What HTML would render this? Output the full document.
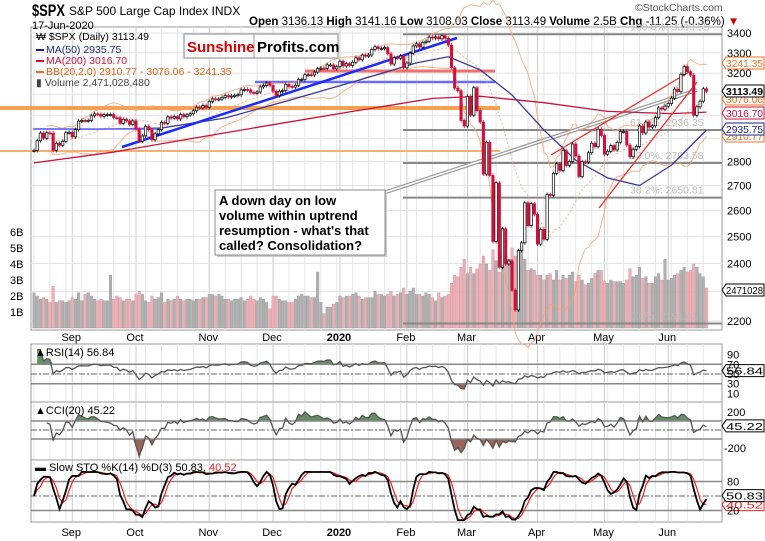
<!DOCTYPE html>
<html><head><meta charset="utf-8"><style>
html,body{margin:0;padding:0;background:#fff;}
svg{display:block;font-family:"Liberation Sans",sans-serif;}
</style></head><body>
<svg id="chart" width="765" height="541" viewBox="0 0 765 541" xmlns="http://www.w3.org/2000/svg">
<g id="bg"></g>
<text x="32" y="16" font-size="17" font-weight="bold" textLength="33" lengthAdjust="spacingAndGlyphs">$SPX</text>
<text x="69" y="15" font-size="12">S&amp;P 500 Large Cap Index  INDX</text>
<text x="32" y="29" font-size="11">17-Jun-2020</text>
<text x="249" y="25" font-size="11.5"><tspan font-weight="bold">Open</tspan> 3136.13 <tspan font-weight="bold">High</tspan> 3141.16 <tspan font-weight="bold">Low</tspan> 3108.03 <tspan font-weight="bold">Close</tspan> 3113.49 <tspan font-weight="bold">Volume</tspan> 2.5B <tspan font-weight="bold">Chg</tspan> -11.25 (-0.36%) <tspan fill="#c00">▼</tspan></text>
<text x="635" y="11" font-size="10.5" fill="#555">©StockCharts.com</text>
<g id="main"></g>
<g id="legend" font-size="10.5">
<text x="36" y="40" fill="#000">₩ $SPX (Daily) 3113.49</text>
<rect x="36" y="49" width="8" height="2" fill="#1a237e"/><text x="46" y="53" fill="#1a237e">MA(50) 2935.75</text>
<rect x="36" y="60" width="8" height="2" fill="#d0103a"/><text x="46" y="64" fill="#d0103a">MA(200) 3016.70</text>
<rect x="36" y="71" width="8" height="2" fill="#f07020"/><text x="46" y="75" fill="#e06010">BB(20,2.0) 2910.77 - 3076.06 - 3241.35</text>
<text x="36" y="86" fill="#444">▮ Volume 2,471,028,480</text>
</g>
<g>
<rect x="184" y="34" width="154" height="24" fill="#fff" stroke="#999" stroke-width="1.2"/>
<line x1="254" y1="34" x2="254" y2="58" stroke="#999"/>
<text x="187" y="52" font-size="15" font-weight="bold" fill="#d00">Sunshine</text>
<text x="257" y="52" font-size="15" font-weight="bold" fill="#000">Profits.com</text>
</g>
<g>
<rect x="217" y="192" width="170" height="65" fill="#ccc"/>
<rect x="215" y="190" width="170" height="65" fill="#fff" stroke="#888"/>
<g font-size="13" font-weight="bold">
<text x="219" y="205">A down day on low</text>
<text x="219" y="220">volume within uptrend</text>
<text x="219" y="235">resumption - what's that</text>
<text x="219" y="250">called? Consolidation?</text>
</g></g>
<g id="lower"></g>
</svg>
<script>
// ---------- data ----------
const closes = [2847,2889,2923,2900,2924,2922,2847,2878,2869,2887,2924,2926,
2906,2938,2976,2979,2978,2979,3000,3009,3007,2998,3005,3006,3006,2992,2991,2966,2984,2977,2961,2977,
2940,2887,2910,2952,2938,2893,2919,2938,2970,2966,2995,2989,2997,2986,3006,2996,3004,3010,3023,3039,3036,3047,3038,
3066,3078,3075,3077,3085,3093,3087,3091,3094,3097,3120,3122,3120,3108,3104,3110,3134,3141,3153,3141,
3113,3093,3113,3117,3146,3136,3133,3142,3169,3169,3192,3192,3191,3205,3221,3224,3223,3240,3240,3221,3231,
3258,3235,3246,3237,3253,3275,3265,3288,3283,3289,3317,3330,3321,3321,3326,3295,3244,3276,3273,3284,3226,
3249,3298,3334,3345,3328,3352,3358,3379,3374,3380,3370,3386,3373,3338,3226,3128,3116,2979,2954,
3090,3003,3130,3024,2972,2747,2882,2741,2481,2711,2386,2529,2398,2409,2305,2237,2447,2476,2630,2541,2627,2585,
2471,2527,2489,2664,2660,2750,2790,2762,2846,2783,2800,2875,2823,2737,2799,2798,2837,2878,2863,2940,2912,
2831,2843,2868,2849,2882,2930,2930,2870,2820,2852,2864,2954,2923,2972,2949,2955,2992,3036,3030,3044,
3056,3081,3123,3112,3194,3232,3207,3190,3002,3041,3067,3125,3113.49];
const volumes = [2.2,2.0,1.8,1.9,1.8,1.6,2.6,1.6,1.7,1.7,1.6,1.7,
1.9,1.8,2.2,1.7,2.1,2.2,2.0,1.8,1.7,1.8,1.7,1.7,3.3,1.8,2.0,1.9,1.7,1.8,1.8,1.7,
2.1,2.3,2.1,1.7,1.6,2.0,1.8,1.9,2.2,1.6,1.8,1.7,1.8,2.0,1.8,1.7,1.8,1.8,1.7,1.8,1.8,1.9,1.9,
2.1,2.1,2.0,2.1,2.0,1.8,1.8,1.7,1.8,1.8,1.9,1.7,1.8,2.0,1.8,1.7,1.9,1.8,1.6,1.2,
2.0,2.0,1.8,1.7,1.7,1.6,1.6,1.8,2.0,2.1,2.0,2.0,1.9,1.9,3.5,1.6,0.9,1.3,1.3,1.5,1.6,
2.0,1.9,2.0,2.0,2.1,2.2,2.0,1.8,1.9,1.9,1.9,2.3,2.1,2.1,2.0,2.1,2.3,2.0,2.1,2.2,2.5,
2.1,2.3,2.5,2.1,2.1,2.0,2.2,2.1,1.9,1.7,2.2,1.9,2.0,2.1,2.8,3.3,3.2,3.8,4.3,
3.4,3.8,3.4,3.7,4.0,4.5,4.0,3.6,4.9,4.2,3.5,4.5,4.5,4.3,5.0,4.5,4.8,5.0,4.3,3.6,3.7,3.6,
3.3,3.3,3.0,3.3,3.4,3.0,3.6,3.0,3.3,3.1,3.3,3.5,2.9,3.3,3.0,2.7,2.8,3.1,3.4,3.6,3.6,
2.9,2.8,3.0,2.9,2.9,2.9,2.8,3.0,3.7,3.2,3.3,3.8,3.1,3.2,2.8,2.8,3.2,3.4,3.0,4.3,
3.0,3.1,3.3,3.4,3.6,3.8,3.5,3.6,4.0,3.8,3.4,3.2,2.5];
const ma50Idx = [0,20,40,60,80,100,120,130,140,150,160,170,180,190,200,211];
const ma50Val = [2941,2940,2945,2990,3071,3157,3250,3280,3216,3096,2936,2805,2731,2700,2784,2935.75];
const ma200Idx = [0,25,50,75,100,125,140,160,180,200,211];
const ma200Val = [2794,2840,2900,2960,3020,3080,3090,3060,3020,3010,3016.7];
const monthLabels = ["Sep","Oct","Nov","Dec","2020","Feb","Mar","Apr","May","Jun"];
const monthStart = [12,32,55,75,96,117,136,158,179,199];
const priceTicks = [3400,3300,3200,3100,3000,2900,2800,2700,2600,2500,2400,2300,2200];
const priceTickLabels = ["3400","3300","3200","","","","2800","2700","2600","2500","2400","","2200"];
const volTicks = [1,2,3,4,5,6];
const fibLevels = [3393.55,2936.35,2793.58,2650.81,2191.61];
const fibNames = ["100.0%","61.8%","50.0%","38.2%","0.0%"];
const rsiTicks = [90,70,50,30,10];
const cciTicks = [200,-200];
const stoTicks = [80,20];

// ---------- scales ----------
const NS='http://www.w3.org/2000/svg';
const X0=31,X1=722;
function xs(i){return 34+i*3.187;}
function ys(p){return 33+Math.log10(3400/p)/Math.log10(3400/2200)*288;}
function yv(v){return 328-v*16;}
function yr(v){return 374-(v-50)*0.487;}
function yc(v){return 430-v*0.09;}
function yk(v){return 496-(v-50)*0.483;}
function mk(parent,tag,attrs,txt){const e=document.createElementNS(NS,tag);for(const k in attrs)e.setAttribute(k,attrs[k]);if(txt!==undefined)e.textContent=txt;parent.appendChild(e);return e;}
const main=document.getElementById('main'), lower=document.getElementById('lower'), bg=document.getElementById('bg');

const panels=[[27,330],[344,402],[402,460],[460,522]];
const panelNames=['price-panel','rsi-panel','cci-panel','stochastic-panel'];
panels.forEach((p,k)=>{
  const r=mk(bg,'rect',{x:X0,y:p[0],width:X1-X0,height:p[1]-p[0],fill:'#fff',stroke:'#999'});
  
  
  for(let i=0;i<212;i+=5){mk(bg,'line',{x1:xs(i),x2:xs(i),y1:p[0],y2:p[1],stroke:'#e6e6e6'});}
  monthStart.forEach(i=>mk(bg,'line',{x1:xs(i),x2:xs(i),y1:p[0],y2:p[1],stroke:'#ccc'}));
});
priceTicks.forEach((p,k)=>{
  mk(bg,'line',{x1:X0,x2:X1,y1:ys(p),y2:ys(p),stroke:'#e2e2e2'});
  if(priceTickLabels[k]){const t=mk(bg,'text',{x:727,y:ys(p)+4,'font-size':11},priceTickLabels[k]);
  
  }
});
volTicks.forEach(v=>{
  const t=mk(bg,'text',{x:10,y:yv(v)+4,'font-size':11},v+'B');
  
  
});
[337,532].forEach(yy=>monthLabels.forEach((m,k)=>{
  const t=mk(bg,'text',{x:xs(monthStart[k])-1,y:yy+4,'font-size':11,'text-anchor':'middle','font-weight':m==='2020'?'bold':'normal'},m);
  
  
}));

closes.forEach((c,i)=>{
  const up=i===0||c>=closes[i-1];
  const b=mk(main,'rect',{x:xs(i)-1.3,y:yv(volumes[i]),width:2.6,height:328-yv(volumes[i]),fill:up?'#b0b0b0':'#eab0b6',stroke:up?'#999':'#d89098','stroke-width':0.4});
  
  
});
function ln(x1,y1,x2,y2,col,w,name){const l=mk(main,'line',{x1,y1,x2,y2,stroke:col,'stroke-width':w});return l;}
ln(0,108,500,108,'#f5a050',4,'orange-resistance-line');
ln(0,151,500,151,'#f5b070',2,'orange-support-line');
ln(255,82,495,82,'#6a6aff',2.5,'blue-horizontal-line');
ln(305,71,495,71,'#f07070',3,'red-horizontal-line');
fibLevels.forEach((f,k)=>{ln(403,ys(f),X1,ys(f),'#888',2,'fib-level-line');
  const t=mk(main,'text',{x:630,y:ys(f)-4,'font-size':10.5,fill:'#bbb'},fibNames[k]+': '+f.toFixed(2));
  
  });
ln(383,193,697,90,'#999',4,'gray-trendline');
ln(383,193,697,90,'#fff',1.5,'gray-trendline-inner');

function bb(i){const s=Math.max(0,i-19),w=closes.slice(s,i+1);const m=w.reduce((a,b)=>a+b)/w.length;const sd=Math.sqrt(w.reduce((a,b)=>a+(b-m)*(b-m),0)/w.length);return [m,m+2*sd,m-2*sd];}
const bu=[],bm=[],bl=[];
for(let i=4;i<closes.length;i++){const b=bb(i);bm.push(xs(i)+','+ys(b[0]));bu.push(xs(i)+','+ys(b[1]));bl.push(xs(i)+','+ys(b[2]));}
[[bu,'bb-upper',''],[bl,'bb-lower',''],[bm,'bb-middle','2,2']].forEach(a=>{const p=mk(main,'polyline',{points:a[0].join(' '),fill:'none',stroke:'#f5a070','stroke-width':1,'stroke-dasharray':a[2],opacity:0.8});});
function maLine(idx,val,col,name){const pts=idx.map((i,k)=>xs(i)+','+ys(val[k])).join(' ');const p=mk(main,'polyline',{points:pts,fill:'none',stroke:col,'stroke-width':1.3,'stroke-linejoin':'round'});}
maLine(ma200Idx,ma200Val,'#d0103a','ma200-line');
maLine(ma50Idx,ma50Val,'#3a3a9a','ma50-line');
ln(33,129,160,129,'#6a6aff',1.5,'blue-base-line');
ln(122,147,457,38,'#1a2aff',2.5,'blue-uptrend-line');
ln(551,155,689,72,'#f03030',1.3,'red-channel-upper');
ln(599,208,697,82,'#f03030',1.3,'red-channel-lower');

closes.forEach((c,i)=>{
  const o=i===0?c:closes[i-1];
  const up=c>=o;const col=up?'#000':'#d0103a';
  const top=ys(Math.max(o,c)),bot=ys(Math.min(o,c));
  mk(main,'line',{x1:xs(i),x2:xs(i),y1:top-2,y2:bot+2,stroke:col,'stroke-width':0.8});
  const r=mk(main,'rect',{x:xs(i)-1.2,y:top,width:2.4,height:Math.max(1,bot-top),fill:up?'#fff':col,stroke:col,'stroke-width':0.7});
  
  
});
function valBox(y,txt,col,bold,name){const g=mk(main,'g',{});
  mk(g,'path',{d:`M722,${y} l4,-6 h38 v12 h-38 z`,fill:'#fff',stroke:col});
  mk(g,'text',{x:726,y:y+4,'font-size':10.5,fill:bold?'#000':col,'font-weight':bold?'bold':'normal',textLength:37,lengthAdjust:'spacingAndGlyphs'},txt);}
valBox(136,'2910.77','#f07020',false,'bb-lower-value');
valBox(99,'3076.06','#f07020',false,'bb-middle-value');
valBox(63,'3241.35','#f07020',false,'bb-upper-value');
valBox(113,'3016.70','#d0103a',false,'ma200-value');
valBox(129,'2935.75','#1a237e',false,'ma50-value');
valBox(91,'3113.49','#000',true,'last-close-value');
valBox(290,'2471028','#000',false,'volume-value');

const n=closes.length;
const rsi=[];let ag=0,al=0;
for(let i=1;i<n;i++){const d=closes[i]-closes[i-1];const g=Math.max(d,0),l=Math.max(-d,0);
  if(i<=14){ag+=g/14;al+=l/14;}else{ag=(ag*13+g)/14;al=(al*13+l)/14;}
  rsi.push([i,al===0?100:100-100/(1+ag/al)]);}
const cci=[];
for(let i=0;i<n;i++){const s=Math.max(0,i-19),w=closes.slice(s,i+1);if(w.length<5)continue;const m=w.reduce((a,b)=>a+b)/w.length;const md=w.reduce((a,b)=>a+Math.abs(b-m),0)/w.length||1;cci.push([i,(closes[i]-m)/(0.015*md)]);}
const raw=[];for(let i=0;i<n;i++){const w=closes.slice(Math.max(0,i-13),i+1);const hh=Math.max(...w),ll=Math.min(...w);raw.push(hh===ll?50:(closes[i]-ll)/(hh-ll)*100);}
const kk=raw.map((v,i)=>{const w=raw.slice(Math.max(0,i-2),i+1);return w.reduce((a,b)=>a+b)/w.length;});
const dd=kk.map((v,i)=>{const w=kk.slice(Math.max(0,i-2),i+1);return w.reduce((a,b)=>a+b)/w.length;});

function hline(y,dash,name){const l=mk(lower,'line',{x1:X0,x2:X1,y1:y,y2:y,stroke:dash?'#666':'#888','stroke-width':dash?1:1.5,'stroke-dasharray':dash?'6,2,2,2':''});}
function tick(x,y,t,name){const e=mk(lower,'text',{x,y:y+4,'font-size':11},t);}
function fillBand(pts,fy,lvl,above,col,name){
  const pp=pts.map(p=>[xs(p[0]),fy(above?Math.max(p[1],lvl):Math.min(p[1],lvl))]);
  const d='M'+xs(pts[0][0])+','+fy(lvl)+' '+pp.map(p=>'L'+p[0]+','+p[1]).join(' ')+' L'+xs(pts[pts.length-1][0])+','+fy(lvl)+'Z';
  const e=mk(lower,'path',{d,fill:col,opacity:0.85});}
function line(pts,fy,col,w,name,lo,hi){const d=pts.map(p=>xs(p[0])+','+fy(Math.max(lo,Math.min(hi,p[1])))).join(' ');const e=mk(lower,'polyline',{points:d,fill:'none',stroke:col,'stroke-width':w});}

rsiTicks.forEach(v=>tick(727,yr(v),String(v),'rsi-tick-label'));
fillBand(rsi,yr,70,true,'#4a7a4a','rsi-overbought-fill');
fillBand(rsi,yr,30,false,'#8a4a40','rsi-oversold-fill');
hline(yr(70),false,'rsi-70-line');hline(yr(30),false,'rsi-30-line');hline(yr(50),true,'rsi-50-line');
line(rsi,yr,'#555',1.3,'rsi-line',0,100);
tick(35,352,'▲RSI(14) 56.84','rsi-title');
valBox(yr(56.84),'56.84','#000',false,'rsi-value');
cciTicks.forEach(v=>tick(v>0?727:724,yc(v),String(v),'cci-tick-label'));
fillBand(cci,yc,100,true,'#4a7a4a','cci-overbought-fill');
fillBand(cci,yc,-100,false,'#8a4a40','cci-oversold-fill');
hline(yc(100),false,'cci-100-line');hline(yc(-100),false,'cci-minus100-line');hline(yc(0),true,'cci-0-line');
line(cci,yc,'#555',1.3,'cci-line',-280,280);
tick(35,410,'▲CCI(20) 45.22','cci-title');
valBox(yc(45.22),'45.22','#000',false,'cci-value');
stoTicks.forEach(v=>tick(727,yk(v),String(v),'sto-tick-label'));
hline(yk(80),false,'sto-80-line');hline(yk(20),false,'sto-20-line');hline(yk(50),true,'sto-50-line');
line(dd.map((v,i)=>[i,v]),yk,'#f02020',1.2,'sto-d-line',-20,118);
line(kk.map((v,i)=>[i,v]),yk,'#000',1.8,'sto-k-line',-20,118);
const st=mk(lower,'text',{x:35,y:471,'font-size':11});


st.innerHTML='<tspan font-weight="bold">▬</tspan> Slow STO %K(14) %D(3) 50.83, <tspan fill="#f02020">40.52</tspan>';
valBox(yk(40.52)+4,'40.52','#f02020',false,'sto-d-value');
valBox(yk(50.83),'50.83','#000',false,'sto-k-value');
</script>
</body></html>
